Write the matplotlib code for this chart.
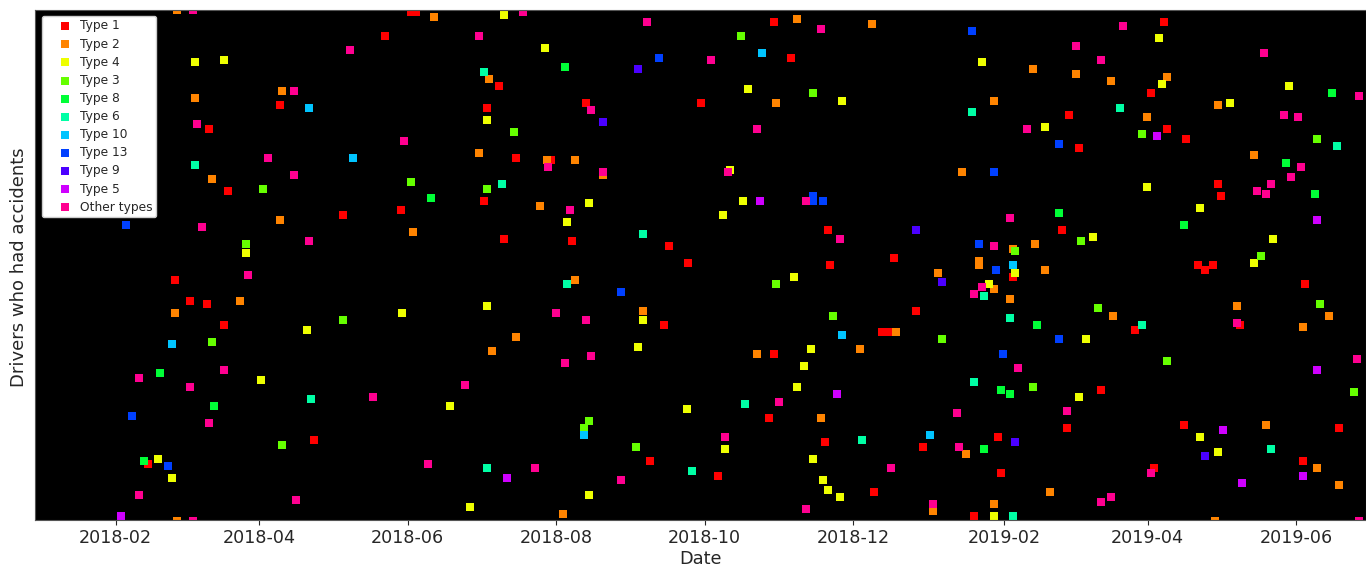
import pandas as pd
import matplotlib
matplotlib.use('Agg')
import matplotlib.pyplot as plt
import matplotlib.dates as mdates

# days since 2018-02-01 and driver row, one pair of lists per accident type
days_type1 = [67.4, 38.5, 46.3, 93.4, 24.2, 30.4, 37.5, 44.4, 81.5, 13.4, 121.2, 123.4, 110.5, 157.6, 193.4, 152.6, 164.5, 178.9, 151.2, 117.4, 159.5, 187.5, 227.5, 235.3, 225.4, 219.5, 270.5, 277.6, 240.6, 292.5, 293.6, 319.6, 368.5, 328.7, 314.7, 317.6, 270.5, 268.6, 362.6, 291.6, 331.8, 247.5, 363.6, 311.7, 352.7, 430.8, 425.5, 391.7, 431.9, 439.7, 395.6, 452.8, 454.0, 388.8, 444.7, 450.8, 447.7, 488.8, 418.7, 461.8, 405.0, 438.8, 502.7, 390.7, 487.8, 426.7]
rows_type1 = [174, 164, 138, 128, 101, 92, 91, 82, 34, 24, 213, 213, 203, 182, 175, 173, 152, 151, 134, 130, 118, 117, 115, 108, 82, 25, 209, 194, 175, 122, 107, 110, 102, 88, 79, 79, 70, 43, 35, 33, 31, 19, 20, 12, 2, 209, 179, 170, 164, 160, 156, 141, 136, 122, 107, 107, 105, 99, 80, 82, 55, 40, 39, 39, 25, 22]

days_type2 = [25.2, 25.2, 32.6, 68.3, 39.4, 67.4, 51.2, 24.2, 130.6, 153.5, 149.3, 177.3, 188.6, 200.4, 174.3, 122.3, 188.6, 216.5, 164.5, 154.5, 183.6, 279.8, 310.7, 271.4, 360.7, 347.6, 368.5, 354.8, 354.8, 337.7, 360.7, 367.6, 320.5, 263.6, 305.8, 289.6, 349.5, 335.8, 360.7, 376.7, 394.7, 408.9, 431.9, 452.8, 423.6, 467.7, 377.7, 381.9, 460.8, 498.6, 409.7, 487.8, 472.6, 493.7, 502.7, 383.7, 451.6]
rows_type2 = [214, 0, 177, 180, 143, 126, 92, 87, 211, 185, 154, 151, 151, 145, 132, 121, 101, 88, 77, 71, 3, 210, 208, 175, 176, 146, 114, 109, 107, 104, 97, 93, 79, 70, 72, 43, 28, 4, 7, 189, 187, 184, 186, 174, 169, 153, 116, 105, 90, 86, 86, 81, 40, 22, 15, 12, 0]

days_type4 = [32.6, 44.4, 53.4, 78.5, 59.6, 17.4, 23.3, 159.5, 176.2, 152.6, 194.5, 185.6, 117.5, 152.6, 216.5, 214.6, 137.5, 234.6, 194.5, 145.4, 355.8, 259.7, 298.4, 252.5, 257.7, 249.4, 369.6, 278.6, 358.8, 285.7, 282.8, 279.8, 250.3, 286.6, 290.6, 292.5, 297.5, 360.7, 428.8, 429.9, 482.1, 458.0, 381.9, 423.6, 445.6, 475.6, 401.7, 467.7, 398.5, 395.6, 445.6, 452.8]
rows_type4 = [192, 193, 112, 80, 59, 26, 18, 212, 198, 168, 133, 125, 87, 90, 84, 73, 48, 47, 11, 6, 192, 181, 176, 147, 134, 128, 104, 102, 99, 72, 65, 56, 30, 26, 17, 13, 10, 2, 202, 183, 182, 175, 165, 140, 131, 118, 119, 108, 76, 52, 35, 29]

days_type3 = [60.5, 53.4, 39.4, 68.3, 93.4, 163.5, 121.3, 152.6, 194.5, 192.4, 213.6, 256.8, 286.6, 369.6, 271.4, 294.6, 339.6, 421.5, 493.7, 396.6, 470.7, 494.7, 403.7, 431.9, 508.9, 376.7]
rows_type3 = [139, 116, 75, 32, 84, 163, 142, 139, 42, 39, 31, 203, 179, 113, 99, 86, 76, 162, 160, 117, 111, 91, 89, 67, 54, 56]

days_type8 = [18.4, 40.4, 11.5, 184.6, 129.4, 363.6, 367.6, 356.8, 499.6, 481.0, 492.7, 387.7, 438.8, 378.7]
rows_type8 = [62, 48, 25, 190, 135, 55, 53, 30, 179, 150, 137, 129, 124, 82]

days_type6 = [32.6, 80.4, 151.2, 158.6, 216.5, 185.6, 152.6, 351.7, 356.8, 367.6, 352.6, 258.7, 306.8, 236.6, 368.5, 412.8, 501.8, 421.5, 474.7]
rows_type6 = [149, 51, 188, 141, 120, 99, 22, 171, 94, 85, 58, 49, 34, 21, 2, 173, 157, 82, 30]

days_type10 = [79.4, 23.3, 97.4, 192.4, 265.5, 368.5, 298.4, 334.7]
rows_type10 = [173, 74, 152, 36, 196, 107, 78, 36]

days_type13 = [4.2, 6.6, 21.4, 223.4, 207.7, 351.7, 360.7, 286.6, 286.6, 290.6, 354.8, 361.7, 364.7, 387.7, 387.7]
rows_type13 = [124, 44, 23, 194, 96, 205, 146, 136, 134, 134, 116, 105, 70, 158, 76]

days_type9 = [214.6, 200.4, 328.7, 339.6, 369.6, 447.7]
rows_type9 = [189, 167, 122, 100, 33, 27]

days_type5 = [2.1, 160.6, 264.6, 296.5, 427.7, 493.7, 493.7, 454.9, 487.8, 462.8]
rows_type5 = [2, 18, 134, 53, 161, 126, 63, 38, 19, 16]

days_other = [31.6, 31.6, 73.3, 33.6, 62.4, 73.3, 35.5, 79.4, 54.4, 9.6, 44.4, 30.4, 38.5, 9.6, 74.2, 167.5, 218.4, 149.3, 96.4, 195.4, 118.5, 177.5, 200.4, 186.5, 180.8, 193.4, 195.4, 184.6, 143.4, 105.6, 128.5, 172.4, 207.7, 289.6, 244.4, 263.6, 374.3, 251.4, 283.8, 297.5, 367.6, 360.7, 355.8, 352.6, 370.6, 272.4, 345.5, 250.3, 346.5, 318.5, 283.8, 335.8, 413.7, 394.7, 471.6, 404.9, 510.9, 480.0, 485.9, 486.8, 482.9, 474.7, 468.8, 472.6, 460.8, 509.9, 390.7, 425.5, 408.9, 404.9, 510.9]
rows_other = [214, 0, 180, 166, 152, 145, 123, 117, 103, 60, 63, 56, 41, 11, 9, 213, 209, 203, 197, 172, 159, 148, 146, 130, 87, 84, 69, 66, 57, 52, 24, 22, 17, 206, 193, 164, 164, 146, 134, 118, 127, 115, 98, 95, 64, 50, 45, 35, 31, 22, 5, 7, 207, 199, 196, 193, 178, 170, 169, 148, 144, 141, 138, 137, 83, 68, 46, 20, 10, 8, 0]

labels = ['Type 1', 'Type 2', 'Type 4', 'Type 3', 'Type 8', 'Type 6', 'Type 10', 'Type 13', 'Type 9', 'Type 5', 'Other types']
colors = ['#ff0000', '#ff8400', '#eeff00', '#66ff00', '#00ff37', '#00ffa5', '#00c4ff', '#0040ff', '#4b00ff', '#cf00ff', '#ff0090']
all_days = [days_type1, days_type2, days_type4, days_type3, days_type8, days_type6, days_type10, days_type13, days_type9, days_type5, days_other]
all_rows = [rows_type1, rows_type2, rows_type4, rows_type3, rows_type8, rows_type6, rows_type10, rows_type13, rows_type9, rows_type5, rows_other]

start = pd.Timestamp('2018-02-01')

fig = plt.figure(figsize=(13.66, 5.67), dpi=100)
ax = fig.add_axes([35.3 / 1366, 47 / 567, 1 - 35.3 / 1366, 510.5 / 567])
ax.set_facecolor('black')

for days, rows, label, color in zip(all_days, all_rows, labels, colors):
    dates = start + pd.to_timedelta(days, unit='D')
    ax.scatter(dates, rows, s=27, marker='s', color=color, linewidths=0, label=label)

ax.set_xlim(start + pd.Timedelta(days=-33), start + pd.Timedelta(days=513.7))
ax.set_ylim(0.42, 214.1)
ax.set_yticks([])
ax.xaxis.set_major_locator(mdates.MonthLocator(bymonth=[2, 4, 6, 8, 10, 12]))
ax.xaxis.set_major_formatter(mdates.DateFormatter('%Y-%m'))
ax.tick_params(axis='x', labelsize=12.6, colors='#262626', pad=3)
ax.set_xlabel('Date', fontsize=12.8, color='#262626', labelpad=2.5)
ax.set_ylabel('Drivers who had accidents', fontsize=13, color='#262626', labelpad=5, y=0.496)
for spine in ax.spines.values():
    spine.set_color('#555555')

ax.legend(loc='upper left', bbox_to_anchor=(6.4 / 1330.7, 1 - 6.2 / 510.5), borderaxespad=0,
          fontsize=8.8, facecolor='white', framealpha=1, labelcolor='#262626',
          labelspacing=0.42, handlelength=3.2, handletextpad=-0.35, borderpad=0.3, markerscale=1.2)

plt.savefig('out.png', dpi=100)
